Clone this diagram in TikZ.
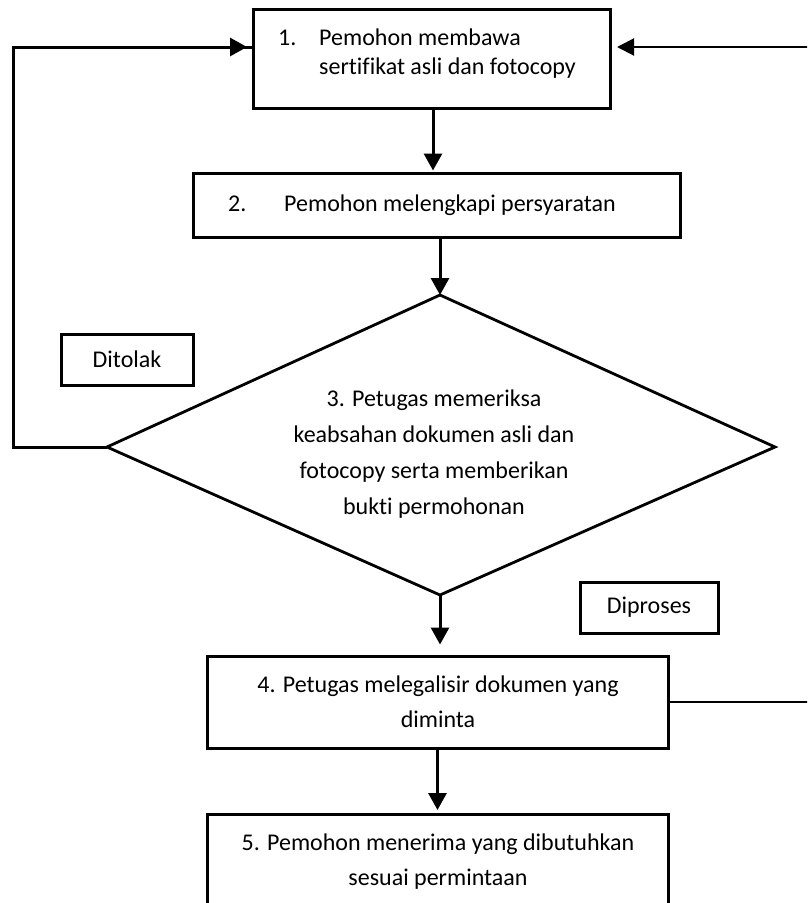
\documentclass[tikz,border=0pt]{standalone}
\usepackage{fontspec}
\setmainfont{Carlito}[Ligatures=NoCommon]
\usetikzlibrary{arrows.meta}
\begin{document}
\begin{tikzpicture}[x=1pt,y=-1pt,
  boxshape/.style={draw, line width=3pt, inner sep=0pt},
  txt/.style={font=\fontsize{24}{29}\selectfont, inner sep=0pt},
  conn/.style={line width=3pt},
  arr/.style={line width=3pt, -{Triangle[length=17pt,width=18pt]}},
  thinline/.style={line width=2pt},
  thinarr/.style={line width=2pt, -{Triangle[length=17pt,width=17pt]}}]
\useasboundingbox (0,0) rectangle (807,903);
\fill[white] (0,0) rectangle (807,903);
\clip (0,0) rectangle (807,903);

% boxes
\node[boxshape, minimum width=357pt, minimum height=99pt] (box1) at (431.5,58.5) {};
\node[boxshape, minimum width=487pt, minimum height=64pt] (box2) at (436.5,205) {};
\node[boxshape, minimum width=461pt, minimum height=92pt] (box4) at (437.5,702) {};
\node[boxshape, minimum width=461pt, minimum height=130pt, anchor=north] (box5) at (437.5,813) {};
\node[boxshape, minimum width=132pt, minimum height=51pt, font=\fontsize{24}{29}\selectfont] (ditolak) at (127,359.5) {Ditolak};
\node[boxshape, minimum width=138pt, minimum height=51pt, font=\fontsize{24}{29}\selectfont] (diproses) at (649,607.5) {Diproses};

% diamond
\draw[line width=2.8pt, line join=miter]
  (440,295) coordinate (dt) -- (775,447) coordinate (dr) --
  (440,595) coordinate (db) -- (107,447) coordinate (dl) -- cycle;

% texts
\node[txt, anchor=base west] (t1n) at (278,45) {1.};
\node[txt, anchor=base west] (t1a) at (319,45) {Pemohon membawa};
\node[txt, anchor=base west] (t1b) at (319,74) {sertifikat asli dan fotocopy};
\node[txt, anchor=base west] (t2n) at (228,211) {2.};
\node[txt, anchor=base west] (t2a) at (284,211) {Pemohon melengkapi persyaratan};
\node[txt, anchor=base] (t3a) at (434,406) {3. Petugas memeriksa};
\node[txt, anchor=base] (t3b) at (434,442) {keabsahan dokumen asli dan};
\node[txt, anchor=base] (t3c) at (434,478) {fotocopy serta memberikan};
\node[txt, anchor=base] (t3d) at (434,514) {bukti permohonan};
\node[txt, anchor=base] (t4a) at (438,692) {4. Petugas melegalisir dokumen yang};
\node[txt, anchor=base] (t4b) at (438,727) {diminta};
\node[txt, anchor=base] (t5a) at (438,850) {5. Pemohon menerima yang dibutuhkan};
\node[txt, anchor=base] (t5b) at (438,885) {sesuai permintaan};

% helper coordinates
\coordinate (lc1) at (13,447);
\coordinate (lc2) at (13,47);
\coordinate (in1) at (253,47);
\coordinate (in2) at (610,47);
\coordinate (re1) at (810,702);
\coordinate (re2) at (810,47);

% connectors
\draw[arr, shorten >=1pt] (433,0 |- box1.south) -- (433,0 |- box2.north);
\draw[arr] (dt |- box2.south) -- (dt);
\draw[arr, shorten >=10pt] (db) -- (db |- box4.north);
\draw[arr, shorten >=3pt] (box4.south) -- (box4.south |- box5.north);
\draw[conn, line join=miter] (dl) -- (lc1) -- (lc2) -- (in1);
\draw[arr, shorten >=6pt] (lc2) -- (in1);
\draw[thinline] (box4.east) -- (re1);
\draw[thinarr, shorten >=7pt] (re2) -- (in2);
\end{tikzpicture}
\end{document}
